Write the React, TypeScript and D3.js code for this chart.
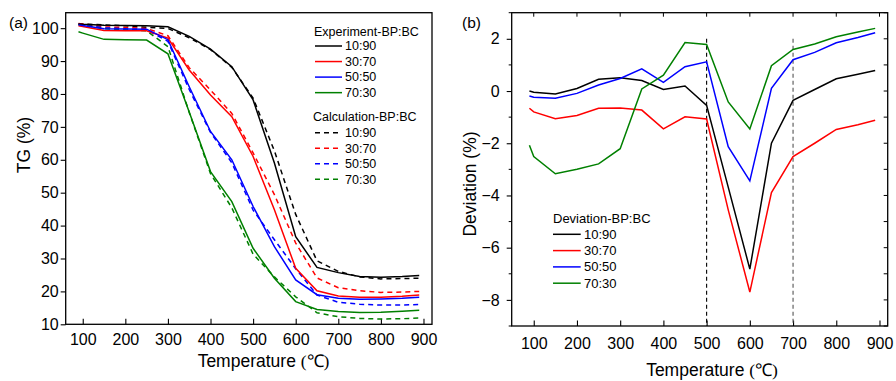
import { useEffect, useRef } from "react";
import * as d3 from "d3";

// temperatures (°C) of the sampled points
const temps = [90, 100, 150, 200, 250, 300, 350, 400, 450, 500, 550, 600, 650, 700, 750, 800, 850, 890];
const ratios = ["10:90", "30:70", "50:50", "70:30"];
const colors = ["#000000", "#ff0000", "#0000ff", "#008000"];

// (a) TG, experiment
const exp1090 = [101.3, 101.2, 100.9, 100.8, 100.7, 100.4, 97.5, 93.6, 88.3, 78.2, 59.0, 36.6, 27.3, 25.7, 24.5, 24.3, 24.5, 24.8];
const exp3070 = [100.7, 100.5, 99.3, 99.25, 99.2, 97.0, 87.3, 79.7, 73.1, 61.0, 44.8, 27.0, 20.2, 18.6, 18.2, 18.2, 18.5, 18.9];
const exp5050 = [101.0, 100.8, 99.8, 99.75, 99.7, 96.5, 82.2, 68.6, 60.0, 45.8, 33.6, 23.5, 19.0, 17.9, 17.6, 17.7, 17.9, 18.2];
const exp7030 = [98.9, 98.5, 96.6, 96.5, 96.4, 92.2, 74.5, 56.4, 47.3, 33.1, 24.0, 16.9, 14.5, 13.9, 13.6, 13.7, 14.0, 14.3];

// (a) TG, calculation
const calc1090 = [101.3, 101.25, 101.0, 100.7, 100.25, 99.9, 97.1, 93.5, 88.1, 78.75, 62.7, 43.4, 29.3, 26.1, 24.4, 23.8, 23.9, 24.0];
const calc3070 = [101.4, 101.3, 100.4, 100.2, 99.9, 97.7, 88.0, 81.2, 74.1, 62.1, 49.4, 34.7, 24.1, 21.1, 20.2, 19.7, 19.8, 20.0];
const calc5050 = [101.2, 101.0, 100.1, 99.8, 99.5, 96.0, 81.35, 68.3, 59.1, 44.7, 35.7, 26.9, 18.9, 16.7, 16.1, 15.85, 15.85, 16.0];
const calc7030 = [101.0, 101.0, 99.8, 99.5, 99.2, 94.4, 74.4, 55.8, 45.4, 31.3, 24.4, 18.35, 13.5, 12.3, 11.8, 11.6, 11.7, 11.9];

// (b) deviation
const dev1090 = [0, -0.05, -0.11, 0.1, 0.45, 0.51, 0.4, 0.06, 0.19, -0.55, -3.68, -6.82, -2.0, -0.36, 0.06, 0.47, 0.64, 0.79];
const dev3070 = [-0.66, -0.8, -1.06, -0.94, -0.66, -0.65, -0.73, -1.45, -0.99, -1.07, -4.55, -7.7, -3.89, -2.51, -2.0, -1.47, -1.29, -1.12];
const dev5050 = [-0.19, -0.24, -0.28, -0.09, 0.23, 0.48, 0.85, 0.33, 0.93, 1.12, -2.13, -3.44, 0.1, 1.2, 1.48, 1.85, 2.05, 2.23];
const dev7030 = [-2.08, -2.51, -3.17, -3.0, -2.79, -2.21, 0.08, 0.61, 1.86, 1.78, -0.42, -1.45, 0.97, 1.59, 1.8, 2.08, 2.26, 2.4];

const xTicks = [100, 200, 300, 400, 500, 600, 700, 800, 900];
const tgTicks = [10, 20, 30, 40, 50, 60, 70, 80, 90, 100];
const devTicks = [-8, -6, -4, -2, 0, 2];
const devMinor = [-9, -8, -7, -6, -5, -4, -3, -2, -1, 0, 1, 2, 3];
const markers = [500, 700];

const SANS = "'Liberation Sans', Arial, Helvetica, sans-serif";
const SERIF = "'Liberation Serif', 'Times New Roman', serif";

function App() {
	const ref = useRef<SVGSVGElement>(null);

	useEffect(() => {
		document.body.style.margin = "0";
		drawChart();
	}, []);

	function drawChart() {
		const svg = d3.select(ref.current);
		svg.selectAll("*").remove();

		const title = (x: number, y: number, rotate: boolean) => {
			const t = svg
				.append("text")
				.attr("font-family", SANS)
				.attr("font-size", 17.5)
				.attr("text-anchor", "middle")
				.attr("transform", rotate ? `translate(${x},${y}) rotate(-90)` : `translate(${x},${y})`);
			return t;
		};

		// ---------- panel (a) ----------
		const xa = d3.scaleLinear().domain([60, 920]).range([65.7, 432]);
		const ya = d3.scaleLinear().domain([10, 104.7]).range([324.3, 12.7]);

		const ga = svg.append("g");
		const axA = ga
			.append("g")
			.attr("transform", `translate(0,${ya.range()[0]})`)
			.call(d3.axisBottom(xa).tickValues(xTicks).tickSize(-5.5).tickPadding(9.3));
		const ayA = ga
			.append("g")
			.attr("transform", `translate(${xa.range()[0]},0)`)
			.call(d3.axisLeft(ya).tickValues(tgTicks).tickSize(5).tickPadding(2));
		[axA, ayA].forEach((a) => {
			a.select(".domain").remove();
			a.attr("font-size", 16).attr("font-family", SANS);
			a.selectAll("line").attr("stroke-width", 1.1);
		});

		const lineA = d3
			.line<number>()
			.x((_, i) => xa(temps[i]))
			.y((d) => ya(d));

		const calc = [calc1090, calc3070, calc5050, calc7030];
		const exp = [exp1090, exp3070, exp5050, exp7030];
		calc.forEach((s, i) => {
			ga.append("path")
				.attr("d", lineA(s))
				.attr("fill", "none")
				.attr("stroke", colors[i])
				.attr("stroke-width", 1.5)
				.attr("stroke-dasharray", "5,4");
		});
		exp.forEach((s, i) => {
			ga.append("path")
				.attr("d", lineA(s))
				.attr("fill", "none")
				.attr("stroke", colors[i])
				.attr("stroke-width", 1.5);
		});

		ga.append("rect")
			.attr("x", xa.range()[0])
			.attr("y", ya.range()[1])
			.attr("width", xa.range()[1] - xa.range()[0])
			.attr("height", ya.range()[0] - ya.range()[1])
			.attr("fill", "none")
			.attr("stroke", "#000")
			.attr("stroke-width", 1.3);

		// legend (a)
		const legA = ga.append("g").attr("font-family", SANS).attr("font-size", 12.5);
		legA.append("text").attr("x", 314).attr("y", 35.5).text("Experiment-BP:BC");
		legA.append("text").attr("x", 313).attr("y", 121.3).text("Calculation-BP:BC");
		ratios.forEach((r, i) => {
			const y1 = 46 + i * 15.55;
			legA.append("line").attr("x1", 315).attr("x2", 342).attr("y1", y1).attr("y2", y1).attr("stroke", colors[i]).attr("stroke-width", 1.5);
			legA.append("text").attr("x", 345).attr("y", y1 + 4.3).text(r);
			const y2 = 132.7 + i * 15.55;
			legA.append("line").attr("x1", 315).attr("x2", 342).attr("y1", y2).attr("y2", y2).attr("stroke", colors[i]).attr("stroke-width", 1.5).attr("stroke-dasharray", "5,4");
			legA.append("text").attr("x", 345).attr("y", y2 + 4.3).text(r);
		});

		svg.append("text").attr("x", 9).attr("y", 27.5).attr("font-family", SANS).attr("font-size", 15.5).text("(a)");
		title(30, 145, true).text("TG (%)");
		const ta = title(263.5, 366.5, false);
		ta.append("tspan").text("Temperature ");
		ta.append("tspan").attr("font-family", SERIF).text("(℃)");

		// ---------- panel (b) ----------
		const xb = d3.scaleLinear().domain([49, 919]).range([511.7, 887.7]);
		const yb = d3.scaleLinear().domain([-9, 3]).range([326, 12.7]);
		const gb = svg.append("g");

		const axB = gb
			.append("g")
			.attr("transform", `translate(0,${yb.range()[0]})`)
			.call(d3.axisBottom(xb).tickValues(xTicks).tickSize(-5.5).tickPadding(11.6));
		const ayB = gb
			.append("g")
			.attr("transform", `translate(${xb.range()[0]},0)`)
			.call(d3.axisLeft(yb).tickValues(devTicks).tickSize(5).tickPadding(7).tickFormat(d3.format("d")));
		[axB, ayB].forEach((a) => {
			a.select(".domain").remove();
			a.attr("font-size", 16).attr("font-family", SANS);
			a.selectAll("line").attr("stroke-width", 1.1);
		});
		// minor ticks left, ticks right and top (inward)
		gb.append("g")
			.selectAll("line.minl")
			.data(devMinor.filter((v) => !devTicks.includes(v)))
			.join("line")
			.attr("x1", xb.range()[0] - 3)
			.attr("x2", xb.range()[0])
			.attr("y1", (d) => yb(d))
			.attr("y2", (d) => yb(d))
			.attr("stroke", "#000");
		gb.append("g")
			.selectAll("line")
			.data(devMinor)
			.join("line")
			.attr("x1", xb.range()[1] - 4)
			.attr("x2", xb.range()[1])
			.attr("y1", (d) => yb(d))
			.attr("y2", (d) => yb(d))
			.attr("stroke", "#000");
		gb.append("g")
			.selectAll("line")
			.data(xTicks)
			.join("line")
			.attr("x1", (d) => xb(d))
			.attr("x2", (d) => xb(d))
			.attr("y1", yb.range()[1])
			.attr("y2", yb.range()[1] + 4)
			.attr("stroke", "#000");

		// marker lines
		gb.selectAll("line.mark")
			.data(markers)
			.join("line")
			.attr("x1", (d) => xb(d))
			.attr("x2", (d) => xb(d))
			.attr("y1", yb(2))
			.attr("y2", yb(-9))
			.attr("stroke", (_, i) => (i === 0 ? "#000" : "#555"))
			.attr("stroke-width", 1.1)
			.attr("stroke-dasharray", "4,3");

		const lineB = d3
			.line<number>()
			.x((_, i) => xb(temps[i]))
			.y((d) => yb(d));
		[dev1090, dev3070, dev5050, dev7030].forEach((s, i) => {
			gb.append("path")
				.attr("d", lineB(s))
				.attr("fill", "none")
				.attr("stroke", colors[i])
				.attr("stroke-width", 1.5);
		});

		gb.append("rect")
			.attr("x", xb.range()[0])
			.attr("y", yb.range()[1])
			.attr("width", xb.range()[1] - xb.range()[0])
			.attr("height", yb.range()[0] - yb.range()[1])
			.attr("fill", "none")
			.attr("stroke", "#000")
			.attr("stroke-width", 1.3);

		const legB = gb.append("g").attr("font-family", SANS).attr("font-size", 13);
		legB.append("text").attr("x", 553).attr("y", 223).text("Deviation-BP:BC");
		ratios.forEach((r, i) => {
			const y = 234.3 + i * 16.3;
			legB.append("line").attr("x1", 553).attr("x2", 580.7).attr("y1", y).attr("y2", y).attr("stroke", colors[i]).attr("stroke-width", 1.5);
			legB.append("text").attr("x", 584).attr("y", y + 4.5).text(r);
		});

		svg.append("text").attr("x", 462).attr("y", 27.5).attr("font-family", SANS).attr("font-size", 15.5).text("(b)");
		title(476, 184, true).text("Deviation (%)");
		const tb = title(712, 375.5, false);
		tb.append("tspan").text("Temperature ");
		tb.append("tspan").attr("font-family", SERIF).text("(℃)");
	}

	return <svg ref={ref} width={896} height={381} style={{ display: "block", background: "#fff" }} />;
}

export default App;
